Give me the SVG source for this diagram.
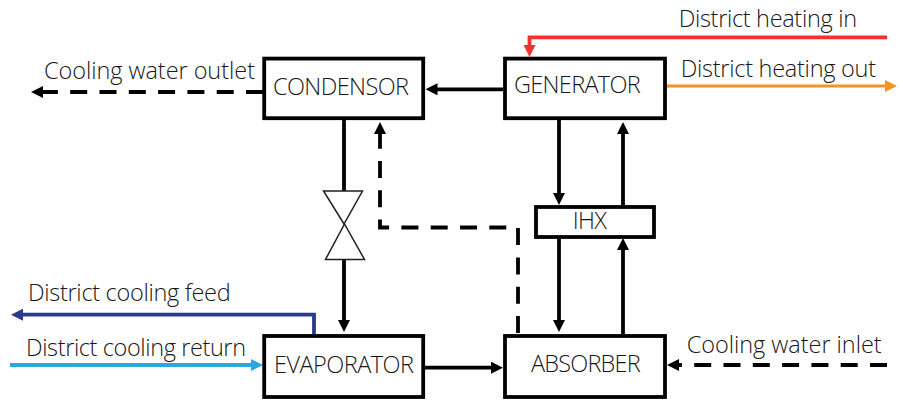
<svg xmlns="http://www.w3.org/2000/svg" width="903" height="401" viewBox="0 0 903 401">
<style>
.box{fill:#fff;stroke:#000;stroke-width:3.8}
.t{font-family:"Open Sans","Noto Sans",sans-serif;font-weight:300;font-size:23.5px;fill:#1a1718}
.c{fill:none;stroke:#000;stroke-width:3.8;stroke-linejoin:miter}
.d{stroke-dasharray:17 12.3}
.k{marker-end:url(#ak)}
.v{fill:#fff;stroke:#231f20;stroke-width:1.5}
</style>
<defs>
<marker id="ak" markerUnits="userSpaceOnUse" markerWidth="12" markerHeight="12" refX="1" refY="6" orient="auto"><path d="M0,0L12,6L0,12z" fill="#000"/></marker>
<marker id="ar" markerUnits="userSpaceOnUse" markerWidth="12" markerHeight="12" refX="1" refY="6" orient="auto"><path d="M0,0L12,6L0,12z" fill="#ef3330"/></marker>
<marker id="ao" markerUnits="userSpaceOnUse" markerWidth="12" markerHeight="12" refX="1" refY="6" orient="auto"><path d="M0,0L12,6L0,12z" fill="#f7941e"/></marker>
<marker id="ab" markerUnits="userSpaceOnUse" markerWidth="12" markerHeight="12" refX="1" refY="6" orient="auto"><path d="M0,0L12,6L0,12z" fill="#2b3990"/></marker>
<marker id="al" markerUnits="userSpaceOnUse" markerWidth="12" markerHeight="12" refX="1" refY="6" orient="auto"><path d="M0,0L12,6L0,12z" fill="#27aae1"/></marker>
</defs>
<g id="connectors">
<path class="c d k" d="M263,92H42"/>
<path class="c k" d="M503,89.300H436.500"/>
<path class="c" d="M344,120V191"/>
<path class="c k" d="M344,259V321"/>
<path class="c d k" d="M518,333V227.500H380V133"/>
<path class="c k" d="M559,120V194"/>
<path class="c k" d="M623,205V133"/>
<path class="c k" d="M559,239V321"/>
<path class="c k" d="M623,334V249"/>
<path class="c k" d="M425,367.700H492"/>
<path class="c d k" d="M887,365H678"/>
<path class="c k" d="M887,37.300H529.500V46" style="stroke:#ef3330;marker-end:url(#ar)"/>
<path class="c k" d="M667,86H886" style="stroke:#f7941e;stroke-width:3.200;marker-end:url(#ao)"/>
<path class="c k" d="M314,334V314.700H22" style="stroke:#2b3990;marker-end:url(#ab)"/>
<path class="c k" d="M10,365H252" style="stroke:#27aae1;marker-end:url(#al)"/>
</g>
<g id="valve">
<polygon class="v" points="323.500,191 362.500,191 344,224"/>
<polygon class="v" points="325.500,259.500 364.500,259.500 344.500,224"/>
</g>
<g id="condensor"><rect class="box" x="264.200" y="58.600" width="159" height="59.600"/><text class="t" x="273" y="95" textLength="136">CONDENSOR</text></g>
<g id="generator"><rect class="box" x="505" y="58.600" width="160" height="59.600"/><text class="t" x="514" y="92.700" textLength="126.700">GENERATOR</text></g>
<g id="ihx"><rect class="box" x="536" y="207" width="118" height="30"/><text class="t" x="572.700" y="228.700" textLength="34.300">IHX</text></g>
<g id="evaporator"><rect class="box" x="264.200" y="336" width="159" height="61"/><text class="t" x="274" y="372.700" textLength="140">EVAPORATOR</text></g>
<g id="absorber"><rect class="box" x="505" y="336" width="160" height="61"/><text class="t" x="531" y="371.700" textLength="109.700">ABSORBER</text></g>
<g id="labels">
<text class="t" x="44" y="79" textLength="211">Cooling water outlet</text>
<text class="t" x="678.700" y="26.700" textLength="178.300">District heating in</text>
<text class="t" x="680.700" y="76.700" textLength="195.300">District heating out</text>
<text class="t" x="28" y="300.700" textLength="202.700">District cooling feed</text>
<text class="t" x="26" y="355.700" textLength="220">District cooling return</text>
<text class="t" x="686.700" y="353" textLength="195">Cooling water inlet</text>
</g>
</svg>
